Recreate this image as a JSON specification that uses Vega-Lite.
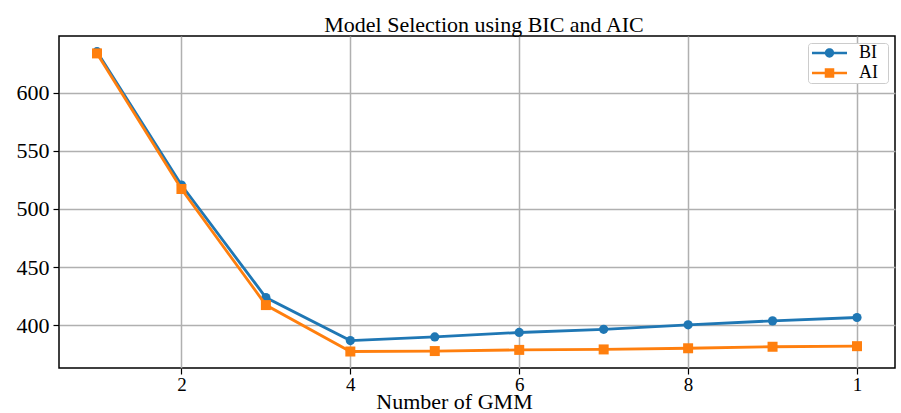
{
  "$schema": "https://vega.github.io/schema/vega-lite/v6.json",
  "width": 836,
  "height": 332,
  "autosize": {"type": "none"},
  "padding": {"left": 59, "top": 36, "right": 6, "bottom": 45},
  "background": "white",
  "config": {
    "font": "Liberation Serif",
    "view": {"stroke": "black", "strokeWidth": 1.5},
    "axis": {
      "domain": false,
      "grid": true,
      "gridColor": "#b0b0b0",
      "gridWidth": 1.5,
      "tickColor": "black",
      "tickWidth": 1.2,
      "tickSize": 6,
      "labelColor": "black",
      "titleColor": "black",
      "labelFont": "Liberation Serif",
      "titleFont": "Liberation Serif",
      "titleFontWeight": "normal"
    }
  },
  "title": {
    "text": "Model Selection using BIC and AIC",
    "font": "Liberation Serif",
    "fontSize": 22,
    "fontWeight": "normal",
    "color": "black",
    "anchor": "middle",
    "baseline": "alphabetic",
    "offset": 5,
    "dy": 23,
    "dx": 7
  },
  "data": {
    "values": [
      {"n": 1, "criterion": "BI", "score": 635.5},
      {"n": 2, "criterion": "BI", "score": 520.6},
      {"n": 3, "criterion": "BI", "score": 423.7},
      {"n": 4, "criterion": "BI", "score": 386.6},
      {"n": 5, "criterion": "BI", "score": 389.8},
      {"n": 6, "criterion": "BI", "score": 393.6},
      {"n": 7, "criterion": "BI", "score": 396.3},
      {"n": 8, "criterion": "BI", "score": 400.2},
      {"n": 9, "criterion": "BI", "score": 403.6},
      {"n": 10, "criterion": "BI", "score": 406.5},
      {"n": 1, "criterion": "AI", "score": 634.0},
      {"n": 2, "criterion": "AI", "score": 517.2},
      {"n": 3, "criterion": "AI", "score": 417.2},
      {"n": 4, "criterion": "AI", "score": 377.2},
      {"n": 5, "criterion": "AI", "score": 377.6},
      {"n": 6, "criterion": "AI", "score": 378.6},
      {"n": 7, "criterion": "AI", "score": 379.0},
      {"n": 8, "criterion": "AI", "score": 380.0},
      {"n": 9, "criterion": "AI", "score": 381.3},
      {"n": 10, "criterion": "AI", "score": 381.8}
    ]
  },
  "encoding": {
    "x": {
      "field": "n",
      "type": "quantitative",
      "scale": {"domain": [0.55, 10.45], "nice": false, "zero": false},
      "axis": {
        "values": [2, 4, 6, 8, 10],
        "labelExpr": "datum.value == 10 ? '1' : datum.label",
        "labelFontSize": 19,
        "labelPadding": 1,
        "title": "Number of GMM",
        "titleFontSize": 22,
        "titleBaseline": "alphabetic",
        "titleX": 395,
        "titleY": 40
      }
    },
    "y": {
      "field": "score",
      "type": "quantitative",
      "scale": {"domain": [363, 649], "nice": false, "zero": false},
      "axis": {
        "values": [400, 450, 500, 550, 600],
        "labelFontSize": 22,
        "labelPadding": 4,
        "title": null
      }
    },
    "color": {
      "field": "criterion",
      "type": "nominal",
      "scale": {"domain": ["BI", "AI"], "range": ["#1f77b4", "#ff7f0e"]},
      "legend": {
        "title": null,
        "orient": "top-right",
        "offset": 7,
        "padding": 1,
        "fillColor": "white",
        "strokeColor": "#cccccc",
        "cornerRadius": 3,
        "labelFont": "Liberation Serif",
        "labelFontSize": 18,
        "labelColor": "black",
        "labelOffset": 32,
        "labelExpr": "datum.label + '\u00a0\u00a0\u200d'",
        "symbolSize": 289,
        "rowPadding": 2,
        "encode": {
          "symbols": {
            "update": {
              "shape": {"signal": "datum.value == 'BI' ? 'M-2.06,-0.16L2.06,-0.16L2.06,0.16L-2.06,0.16Z M0.55,0A0.55,0.55 0 1,1 -0.55,0A0.55,0.55 0 1,1 0.55,0Z' : 'M-2.06,-0.16L2.06,-0.16L2.06,0.16L-2.06,0.16Z M-0.56,-0.56L0.56,-0.56L0.56,0.56L-0.56,0.56Z'"},
              "fill": {"signal": "datum.value == 'BI' ? '#1f77b4' : '#ff7f0e'"},
              "stroke": {"value": "transparent"},
              "strokeWidth": {"value": 0},
              "xc": {"value": 20.5}
            }
          }
        }
      }
    }
  },
  "layer": [
    {
      "transform": [{"filter": "datum.criterion == 'BI'"}],
      "mark": {"type": "line", "strokeWidth": 2.8}
    },
    {
      "transform": [{"filter": "datum.criterion == 'BI'"}],
      "mark": {"type": "point", "shape": "circle", "filled": true, "size": 85, "opacity": 1}
    },
    {
      "transform": [{"filter": "datum.criterion == 'AI'"}],
      "mark": {"type": "line", "strokeWidth": 2.8}
    },
    {
      "transform": [{"filter": "datum.criterion == 'AI'"}],
      "mark": {"type": "point", "shape": "square", "filled": true, "size": 100, "opacity": 1}
    }
  ]
}
